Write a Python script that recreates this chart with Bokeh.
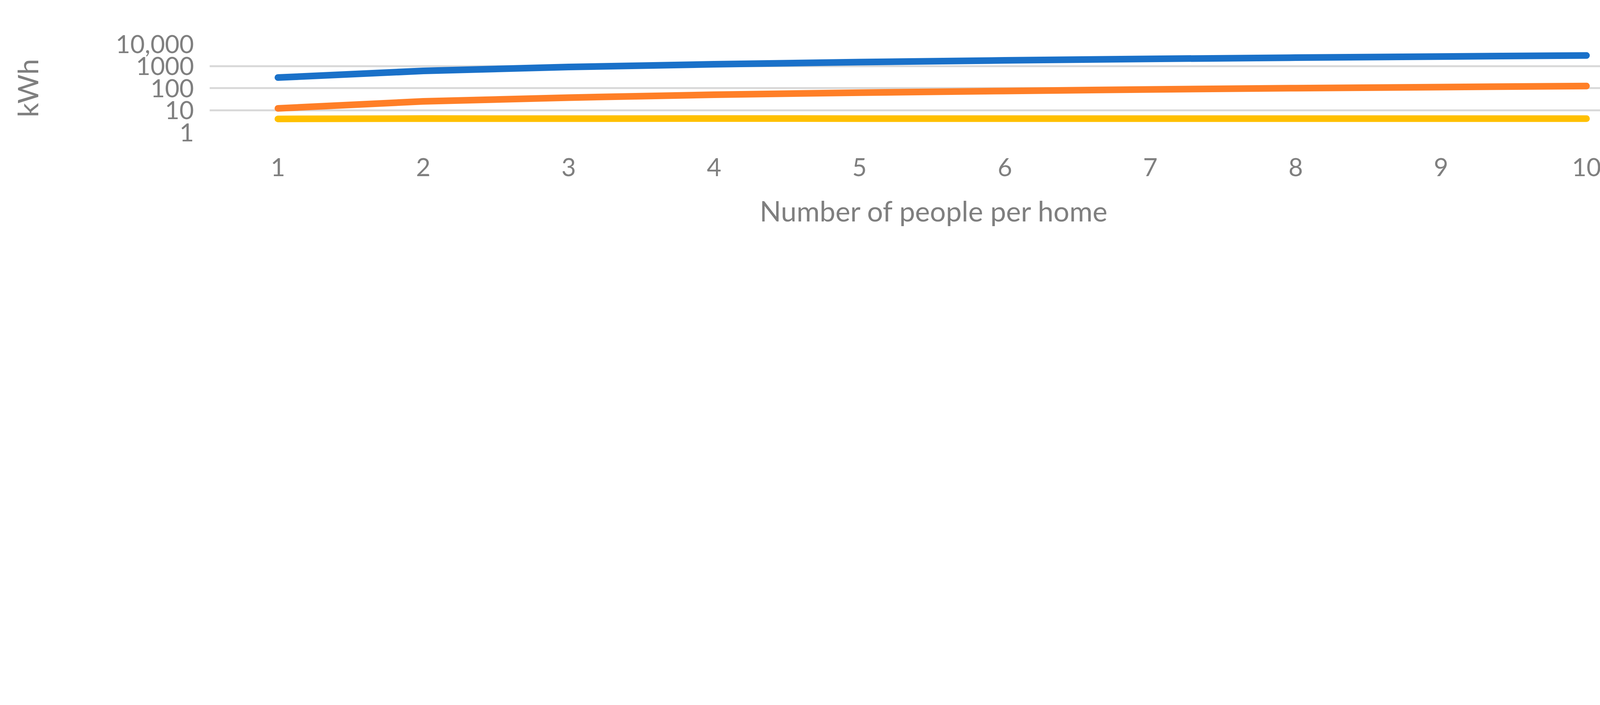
from bokeh.plotting import figure
from bokeh.models import FixedTicker, Legend, LegendItem, Title
from bokeh.embed import file_html
from bokeh.resources import INLINE

people = [1, 2, 3, 4, 5, 6, 7, 8, 9, 10]
consumption = [300, 600, 900, 1200, 1500, 1800, 2100, 2400, 2700, 3000]
generated = [12, 25, 37, 50, 62, 74, 87, 99, 111, 124]
ratio = [4.0, 4.17, 4.11, 4.17, 4.13, 4.11, 4.14, 4.13, 4.11, 4.13]
y_ticks = [1, 10, 100, 1000, 10000]
x_ticks = people

FONT = "Lato"
GRAY = "#7f7f7f"

p = figure(width=4358, height=1789, y_axis_type="log", x_range=(0.53, 10.5), y_range=(1, 10000),
           output_backend="svg", toolbar_location=None,
           min_border_left=536, min_border_right=111, min_border_top=112, min_border_bottom=709)
p.outline_line_color = None
p.xgrid.grid_line_color = None
p.ygrid.grid_line_color = "#d9d9d9"
p.ygrid.grid_line_width = 5
p.yaxis.ticker = FixedTicker(ticks=y_ticks, minor_ticks=[])
p.xaxis.ticker = FixedTicker(ticks=x_ticks, minor_ticks=[])
p.yaxis.major_label_overrides = {1: "1", 10: "10", 100: "100", 1000: "1000", 10000: "10,000"}
for ax in (p.xaxis[0], p.yaxis[0]):
    ax.axis_line_color = None
    ax.major_tick_line_color = None
    ax.minor_tick_line_color = None
    ax.major_tick_out = 0
    ax.major_label_text_font = FONT
    ax.major_label_text_font_size = "64px"
    ax.major_label_text_color = GRAY
    ax.axis_label_text_font = FONT
    ax.axis_label_text_font_style = "normal"
    ax.axis_label_text_color = GRAY
    ax.axis_label_text_font_size = "72px"
p.xaxis.axis_label = "Number of people per home"
p.yaxis.axis_label = "kWh"
p.xaxis.major_label_standoff = 66
p.xaxis.axis_label_standoff = 42
p.yaxis.major_label_standoff = 40
p.yaxis.axis_label_standoff = 180

r1 = p.line(people, consumption, line_color="#1A71C9", line_width=17, line_cap="round")
r2 = p.line(people, generated, line_color="#FF7F27", line_width=17, line_cap="round")
r3 = p.line(people, ratio, line_color="#FFC000", line_width=17, line_cap="round")

spacer = Title(text=" ", text_font_size="110px", standoff=0, offset=0)
p.add_layout(spacer, "below")

leg = Legend(items=[LegendItem(label="World average energy consumption", renderers=[r1]),
                    LegendItem(label="World average  monthly generated energy from waste", renderers=[r2]),
                    LegendItem(label="Generated to consumed energy ratio [%]", renderers=[r3])],
             ncols=2, location=(-232, 0), padding=0, margin=0, spacing=80,
             glyph_width=176, glyph_height=60, label_standoff=14, label_width=1622,
             label_text_font=FONT, label_text_font_size="64px", label_text_color=GRAY,
             background_fill_alpha=0, border_line_color=None)
p.add_layout(leg, "below")

open("out.html", "w").write(file_html(p, INLINE))
